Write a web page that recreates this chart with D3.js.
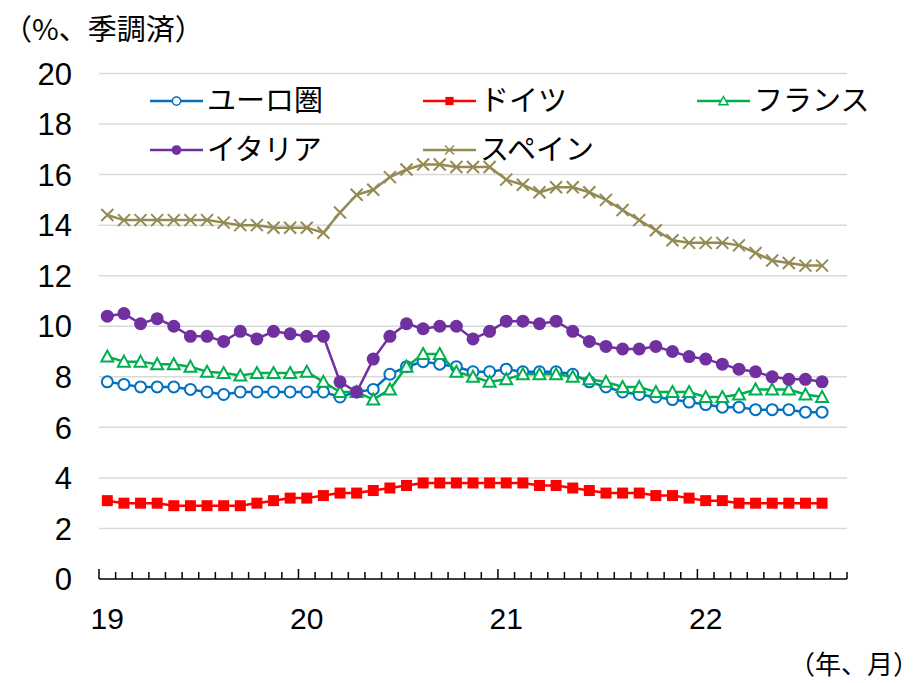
<!DOCTYPE html>
<html>
<head>
<meta charset="utf-8">
<script src="https://cdn.jsdelivr.net/npm/d3@7"></script>
<style>
  body { margin: 0; background: #fff; }
  text { fill: #000; }
</style>
</head>
<body>
<div id="chart"></div>
<script>
    // unemployment rate, monthly, 2019/1 - 2022/8 (seasonally adjusted)
    // category axis has one more empty slot at the end (2022/9) like the excel chart

    var nSlots = 45;
    var yearLabels = ["19", "20", "21", "22"];
    var yTicks = [0, 2, 4, 6, 8, 10, 12, 14, 16, 18, 20];

    var seriesNames = ["ユーロ圏", "ドイツ", "フランス", "イタリア", "スペイン"];

    var euro = [7.8, 7.7, 7.6, 7.6, 7.6, 7.5, 7.4, 7.3, 7.4, 7.4, 7.4, 7.4,
                7.4, 7.4, 7.2, 7.4, 7.5, 8.1, 8.4, 8.6, 8.5, 8.4, 8.2, 8.2,
                8.3, 8.2, 8.2, 8.2, 8.1, 7.8, 7.6, 7.4, 7.3, 7.2, 7.1, 7.0,
                6.9, 6.8, 6.8, 6.7, 6.7, 6.7, 6.6, 6.6];

    var germany = [3.1, 3.0, 3.0, 3.0, 2.9, 2.9, 2.9, 2.9, 2.9, 3.0, 3.1, 3.2,
                   3.2, 3.3, 3.4, 3.4, 3.5, 3.6, 3.7, 3.8, 3.8, 3.8, 3.8, 3.8,
                   3.8, 3.8, 3.7, 3.7, 3.6, 3.5, 3.4, 3.4, 3.4, 3.3, 3.3, 3.2,
                   3.1, 3.1, 3.0, 3.0, 3.0, 3.0, 3.0, 3.0];

    var france = [8.8, 8.6, 8.6, 8.5, 8.5, 8.4, 8.2, 8.15, 8.05, 8.15, 8.15, 8.15,
                  8.2, 7.8, 7.4, 7.4, 7.1, 7.5, 8.4, 8.9, 8.9, 8.2, 8.0, 7.8,
                  7.9, 8.1, 8.1, 8.1, 8.0, 7.9, 7.8, 7.6, 7.6, 7.4, 7.4, 7.4,
                  7.2, 7.2, 7.3, 7.5, 7.5, 7.5, 7.3, 7.2];

    var italy = [10.4, 10.5, 10.1, 10.3, 10.0, 9.6, 9.6, 9.4, 9.8, 9.5, 9.8, 9.7,
                 9.6, 9.6, 7.8, 7.4, 8.7, 9.6, 10.1, 9.9, 10.0, 10.0, 9.5, 9.8,
                 10.2, 10.2, 10.1, 10.2, 9.8, 9.4, 9.2, 9.1, 9.1, 9.2, 9.0, 8.8,
                 8.7, 8.5, 8.3, 8.2, 8.0, 7.9, 7.9, 7.8];

    var spain = [14.4, 14.2, 14.2, 14.2, 14.2, 14.2, 14.2, 14.1, 14.0, 14.0, 13.9, 13.9,
                 13.9, 13.7, 14.5, 15.2, 15.4, 15.9, 16.2, 16.4, 16.4, 16.3, 16.3, 16.3,
                 15.8, 15.6, 15.3, 15.5, 15.5, 15.3, 15.0, 14.6, 14.2, 13.8, 13.4, 13.3,
                 13.3, 13.3, 13.2, 12.9, 12.6, 12.5, 12.4, 12.4];

    var W = 919, H = 683;
    var numFont = "'Liberation Sans', Arial, sans-serif";
    var jpFont = "'Noto Sans CJK JP', sans-serif";

    var svg = d3.select("#chart")
      .append("svg")
        .attr("width", W)
        .attr("height", H);

    var x = d3.scaleBand()
              .domain(d3.range(nSlots))
              .range([99, 847]);
    var cx = function(i) { return x(i) + x.bandwidth() / 2; };

    var y = d3.scaleLinear()
              .domain([0, 20])
              .range([579, 73.5]);

    // gridlines
    svg.append("g")
      .selectAll("line")
      .data(yTicks.filter(function(d) { return d > 0; }))
      .enter()
      .append("line")
        .attr("x1", 99)
        .attr("x2", 847)
        .attr("y1", function(d) { return y(d); })
        .attr("y2", function(d) { return y(d); })
        .style("stroke", "#d9d9d9")
        .style("stroke-width", 1.5);

    // y labels
    svg.append("g")
      .selectAll("text")
      .data(yTicks)
      .enter()
      .append("text")
        .attr("x", 72)
        .attr("y", function(d) { return y(d); })
        .attr("dy", "0.36em")
        .attr("text-anchor", "end")
        .style("font-family", numFont)
        .style("font-size", "31px")
        .text(function(d) { return d; });

    // x axis line + ticks between categories (major = year)
    var bounds = d3.range(nSlots + 1);
    var bx = function(i) { return i < nSlots ? x(i) : x.range()[1]; };
    svg.append("line")
        .attr("x1", 99).attr("x2", 847)
        .attr("y1", y(0)).attr("y2", y(0))
        .style("stroke", "#000")
        .style("stroke-width", 1.5);
    svg.append("g")
      .selectAll("line")
      .data(bounds)
      .enter()
      .append("line")
        .attr("x1", bx).attr("x2", bx)
        .attr("y1", y(0))
        .attr("y2", function(d) { return y(0) - (d % 12 === 0 ? 10 : 7); })
        .style("stroke", "#000")
        .style("stroke-width", 1.5);

    svg.append("g")
      .selectAll("text")
      .data(yearLabels)
      .enter()
      .append("text")
        .attr("x", function(d, i) { return cx(i * 12); })
        .attr("y", 629)
        .attr("text-anchor", "middle")
        .style("font-family", numFont)
        .style("font-size", "30px")
        .text(function(d) { return d; });

    // unit labels
    svg.append("text")
        .attr("x", 3)
        .attr("y", 40)
        .style("font-family", jpFont)
        .style("font-size", "29px")
        .text("（%、季調済）");

    svg.append("text")
        .attr("x", 919)
        .attr("y", 674)
        .attr("text-anchor", "end")
        .style("font-family", jpFont)
        .style("font-size", "26px")
        .text("（年、月）");

    // markers
    var markers = {
      circle: function(g, c) {
        g.append("circle").attr("r", 5.5)
          .style("fill", "#fff").style("stroke", c).style("stroke-width", 2);
      },
      square: function(g, c) {
        g.append("rect").attr("x", -5.5).attr("y", -5.5).attr("width", 11).attr("height", 11)
          .style("fill", c);
      },
      triangle: function(g, c) {
        g.append("path").attr("d", "M0,-6L6,5L-6,5Z")
          .style("fill", "#fff").style("stroke", c).style("stroke-width", 2);
      },
      dot: function(g, c) {
        g.append("circle").attr("r", 6.5).style("fill", c);
      },
      cross: function(g, c) {
        g.append("path").attr("d", "M-6,-6L6,6M-6,6L6,-6")
          .style("stroke", c).style("stroke-width", 2);
      }
    };

    var series = [
      { name: seriesNames[0], values: euro,    color: "#0070C0", marker: "circle" },
      { name: seriesNames[1], values: germany, color: "#FF0000", marker: "square" },
      { name: seriesNames[2], values: france,  color: "#00B050", marker: "triangle" },
      { name: seriesNames[3], values: italy,   color: "#7030A0", marker: "dot" },
      { name: seriesNames[4], values: spain,   color: "#948A54", marker: "cross" }
    ];

    var line = d3.line()
      .x(function(d, i) { return cx(i); })
      .y(function(d) { return y(d); });

    series.forEach(function(s) {
      var g = svg.append("g");
      g.append("path")
        .datum(s.values)
        .attr("d", line)
        .style("fill", "none")
        .style("stroke", s.color)
        .style("stroke-width", 2.5);
      g.selectAll("g.pt")
        .data(s.values)
        .enter()
        .append("g")
          .attr("class", "pt")
          .attr("transform", function(d, i) { return "translate(" + cx(i) + "," + y(d) + ")"; })
          .each(function() { markers[s.marker](d3.select(this), s.color); });
    });

    // legend
    var legendPos = [[150, 101], [423, 101], [697, 101], [150, 150], [423, 150]];
    series.forEach(function(s, i) {
      var lg = svg.append("g")
        .attr("transform", "translate(" + legendPos[i][0] + "," + legendPos[i][1] + ")");
      lg.append("line")
        .attr("x1", 0).attr("x2", 53)
        .style("stroke", s.color)
        .style("stroke-width", 2.5);
      var m = lg.append("g").attr("transform", "translate(26.5,0) scale(0.75)");
      markers[s.marker](m, s.color);
      lg.append("text")
        .attr("x", 57)
        .attr("dy", "0.36em")
        .style("font-family", jpFont)
        .style("font-size", "29px")
        .text(s.name);
    });
</script>
</body>
</html>
